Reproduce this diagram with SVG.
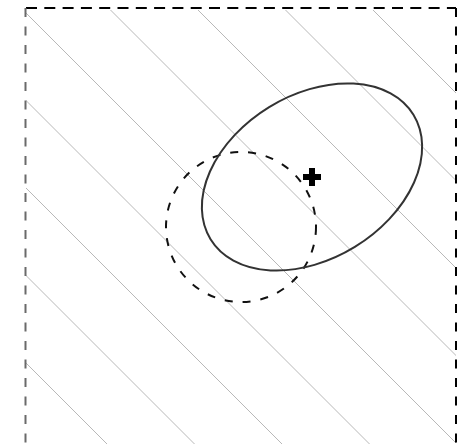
<svg xmlns="http://www.w3.org/2000/svg" width="457" height="444" viewBox="0 0 457 444">
  <style>
    .hatch { stroke: #b8b8b8; stroke-width: 1; fill: none; }
    .frame { fill: none; stroke-width: 2; }
  </style>
  <defs>
    <clipPath id="clip">
      <rect x="26" y="10" width="430" height="434"/>
    </clipPath>
  </defs>
  <rect width="457" height="444" fill="#ffffff"/>
  <g id="hatching" clip-path="url(#clip)">
    <line class="hatch" x1="0" y1="-363" x2="900" y2="537"/>
    <line class="hatch" x1="0" y1="-275.5" x2="900" y2="624.5"/>
    <line class="hatch" x1="0" y1="-188" x2="900" y2="712"/>
    <line class="hatch" x1="0" y1="-100.5" x2="900" y2="799.5"/>
    <line class="hatch" x1="0" y1="-13" x2="900" y2="887"/>
    <line class="hatch" x1="0" y1="74.5" x2="900" y2="974.5"/>
    <line class="hatch" x1="0" y1="162" x2="900" y2="1062"/>
    <line class="hatch" x1="0" y1="249.5" x2="900" y2="1149.5"/>
    <line class="hatch" x1="0" y1="337" x2="900" y2="1237"/>
  </g>
  <g id="frame">
    <line class="frame" x1="26" y1="8" x2="456" y2="8" stroke="#000" stroke-dasharray="11 7.3"/>
    <line class="frame" x1="25.5" y1="8" x2="25.5" y2="444" stroke="#6a6a6a" stroke-dasharray="9 9.5"/>
    <line class="frame" x1="456" y1="8" x2="456" y2="444" stroke="#000" stroke-dasharray="9 9.5"/>
  </g>
  <g id="circle">
    <circle cx="241" cy="227" r="75" fill="none" stroke="#111" stroke-width="2" stroke-dasharray="8 10"/>
  </g>
  <g id="ellipse">
    <ellipse cx="312" cy="177" rx="119" ry="82" transform="rotate(-31.5 312 177)" fill="none" stroke="#333" stroke-width="2"/>
  </g>
  <g id="center-mark">
    <path d="M303,177 H321 M312,168 V186" stroke="#000" stroke-width="6" fill="none"/>
  </g>
</svg>
